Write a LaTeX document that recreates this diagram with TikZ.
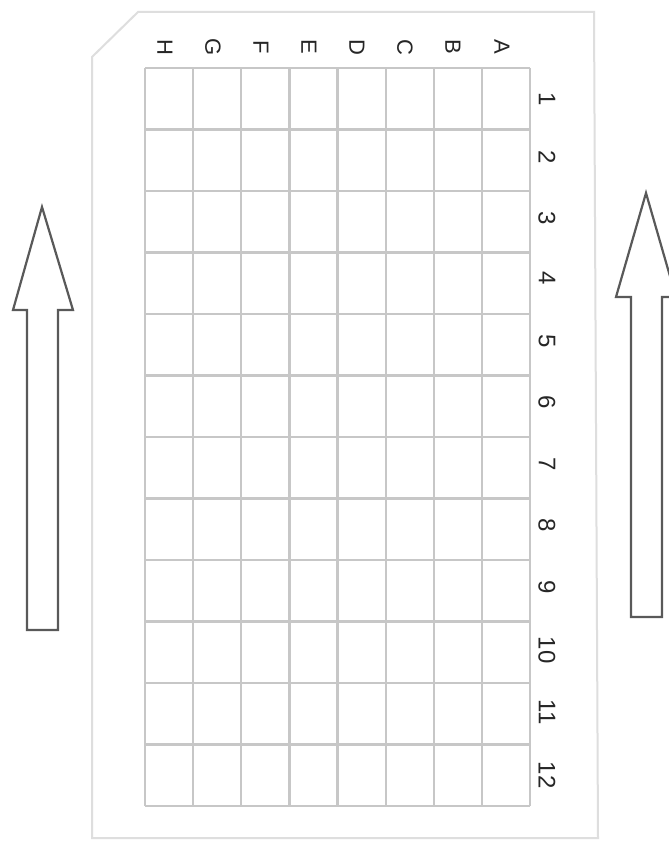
\documentclass[tikz,border=0pt]{standalone}
\usepackage{fontspec}
\setmainfont{Liberation Sans}
\usetikzlibrary{positioning}

\begin{document}
\begin{tikzpicture}[x=1pt,y=-1pt,
  plate/.style={draw=black!13,line width=2pt},
  well/.style={draw=black!22,line width=2.2pt},
  lbl/.style={font=\fontsize{22}{22}\selectfont,text=black!85,rotate=-90,inner sep=0pt},
  num/.style={lbl,font=\fontsize{24}{24}\selectfont},
  bigarrow/.style={draw=black!65,fill=white,line width=2.2pt,line join=miter}]
\useasboundingbox[fill=white] (0,0) rectangle (669,843);
% plate outline
\draw[plate] (138,12) -- (594,12) -- (598,838) -- (92,838) -- (92,57) -- cycle;
% wells
\draw[well] (145,68) -- (145,806);
\draw[well] (193.1,68) -- (193.1,806);
\draw[well] (241.3,68) -- (241.3,806);
\draw[well] (289.4,68) -- (289.4,806);
\draw[well] (337.5,68) -- (337.5,806);
\draw[well] (385.6,68) -- (385.6,806);
\draw[well] (433.8,68) -- (433.8,806);
\draw[well] (481.9,68) -- (481.9,806);
\draw[well] (530,68) -- (530,806);
\draw[well] (145,68) -- (530,68);
\draw[well] (145,129.5) -- (530,129.5);
\draw[well] (145,191) -- (530,191);
\draw[well] (145,252.5) -- (530,252.5);
\draw[well] (145,314) -- (530,314);
\draw[well] (145,375.5) -- (530,375.5);
\draw[well] (145,437) -- (530,437);
\draw[well] (145,498.5) -- (530,498.5);
\draw[well] (145,560) -- (530,560);
\draw[well] (145,621.5) -- (530,621.5);
\draw[well] (145,683) -- (530,683);
\draw[well] (145,744.5) -- (530,744.5);
\draw[well] (145,806) -- (530,806);
% column letters
\node[lbl] (colH) at (165,47) {H};
\node[lbl] (colG) at (213,47) {G};
\node[lbl] (colF) at (261,47) {F};
\node[lbl] (colE) at (309,47) {E};
\node[lbl] (colD) at (357,47) {D};
\node[lbl] (colC) at (405,47) {C};
\node[lbl] (colB) at (453,47) {B};
\node[lbl] (colA) at (502,47) {A};
% row numbers
\node[num] (row1) at (547,99) {1};
\node[num] (row2) at (547,157) {2};
\node[num] (row3) at (547,218) {3};
\node[num] (row4) at (547,278) {4};
\node[num] (row5) at (547,341) {5};
\node[num] (row6) at (547,402) {6};
\node[num] (row7) at (547,464) {7};
\node[num] (row8) at (547,525) {8};
\node[num] (row9) at (547,587) {9};
\node[num] (row10) at (547,650) {10};
\node[num] (row11) at (547,712) {11};
\node[num] (row12) at (547,775) {12};
% arrows
\draw[bigarrow] (42,207) -- (73,310) -- (58,310) -- (58,630) -- (27,630) -- (27,310) -- (13,310) -- cycle;
\draw[bigarrow] (646,193) -- (676,297) -- (662,297) -- (662,617) -- (631,617) -- (631,297) -- (616,297) -- cycle;
\end{tikzpicture}
\end{document}
